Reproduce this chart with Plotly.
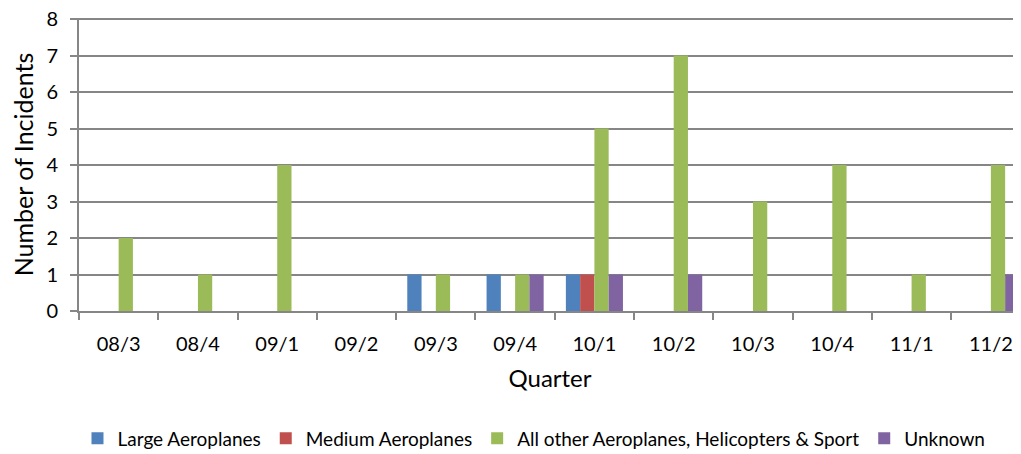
import plotly.graph_objects as go

quarters = ["08/3", "08/4", "09/1", "09/2", "09/3", "09/4", "10/1", "10/2", "10/3", "10/4", "11/1", "11/2"]
large = [0, 0, 0, 0, 1, 1, 1, 0, 0, 0, 0, 0]
medium = [0, 0, 0, 0, 0, 0, 1, 0, 0, 0, 0, 0]
other = [2, 1, 4, 0, 1, 1, 5, 7, 3, 4, 1, 4]
unknown = [0, 0, 0, 0, 0, 1, 1, 1, 0, 0, 0, 1]
y_ticks = [0, 1, 2, 3, 4, 5, 6, 7, 8]

series = [
    ("Large Aeroplanes", large, "#4F81BD"),
    ("Medium Aeroplanes", medium, "#C0504D"),
    ("All other Aeroplanes, Helicopters & Sport", other, "#9BBB59"),
    ("Unknown", unknown, "#8064A2"),
]

font = "Lato, 'Open Sans', sans-serif"
fig = go.Figure()
for name, vals, col in series:
    fig.add_trace(go.Bar(x=list(range(len(quarters))), y=vals, name=name,
                         marker=dict(color=col, line=dict(width=0))))

fig.update_layout(
    template="none",
    width=1013, height=446,
    margin=dict(l=71, r=0, t=10, b=143, autoexpand=False),
    paper_bgcolor="white", plot_bgcolor="white",
    barmode="group", bargap=0.28, bargroupgap=0,
    font=dict(family=font, size=20, color="#000000"),
    showlegend=True,
    legend=dict(orientation="h", x=0.483, xanchor="center", y=-0.435, yanchor="middle",
                font=dict(size=19), itemwidth=30, traceorder="normal"),
    xaxis=dict(
        tickmode="array", tickvals=list(range(len(quarters))), ticktext=quarters,
        range=[-0.5, 11.38], showgrid=False, showline=True, linecolor="#868686", linewidth=2,
        ticks="", ticklabelstandoff=14, automargin=False,
        title=dict(text="Quarter", font=dict(size=24), standoff=16),
        zeroline=False,
    ),
    yaxis=dict(
        range=[0, 8.03], tickvals=y_ticks, ticklabelstandoff=8, automargin=False,
        ticklabeloverflow="allow",
        showgrid=True, gridcolor="#868686", gridwidth=2,
        showline=True, linecolor="#868686", linewidth=2, ticks="outside", ticklen=7,
        tickcolor="#868686", tickwidth=2, zeroline=False,
        title=dict(text="Number of Incidents", font=dict(size=25), standoff=6),
    ),
)
fig.update_xaxes(minor=dict(tickvals=[i - 0.5 for i in range(len(quarters) + 1)], ticks="outside",
                            ticklen=7, tickcolor="#868686", tickwidth=2, showgrid=False))

fig.write_html("out.html")
